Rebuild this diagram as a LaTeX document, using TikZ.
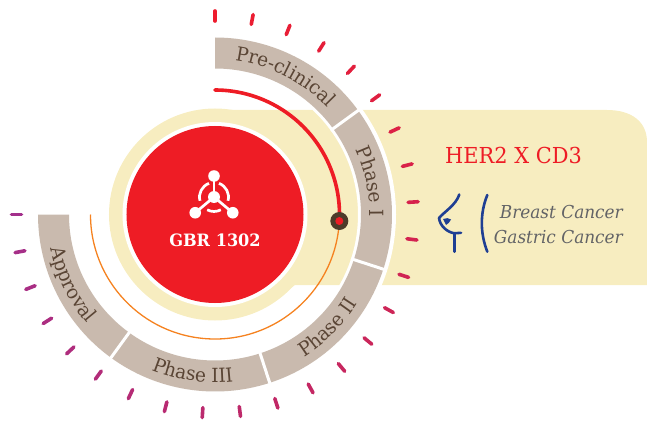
\documentclass[tikz,border=0pt]{standalone}
\usepackage{fontspec}
\usetikzlibrary{decorations.text}
\newfontfamily\slab[FakeStretch=0.95]{DejaVu Serif}
\definecolor{creamc}{HTML}{F7EDC0}
\definecolor{bandc}{HTML}{C9BAAE}
\definecolor{redc}{HTML}{EE1C25}
\definecolor{orangec}{HTML}{F58220}
\definecolor{brownc}{HTML}{5A4535}
\definecolor{dotc}{HTML}{4E3B2A}
\definecolor{bluec}{HTML}{1F3F93}
\definecolor{grayc}{HTML}{626366}
\definecolor{tickA}{HTML}{EE1C2E}
\definecolor{tickB}{HTML}{A3308C}
\tikzset{
  bandseg/.style={fill=bandc,draw=none},
  sepline/.style={draw=white,line width=3pt},
  tickmark/.style={line width=3.6pt,line cap=round},
  bluestroke/.style={draw=bluec,line width=2.6pt,line cap=round,line join=round},
  icoline/.style={draw=white,line width=2.7pt},
}
\newcommand{\bandfont}{\slab\fontsize{19.5}{22}\selectfont\color{brownc}}
\begin{document}
\begin{tikzpicture}[x=1pt,y=1pt]
\useasboundingbox (-215,214.5) rectangle (432,-208.5);
% cream panel and ring (pixel coordinates inside scope)
\begin{scope}[shift={(-215,214.5)},y=-1pt]
  \fill[creamc] (230,110) -- (607,110) .. controls (632,110) and (647,122) .. (647,142) -- (647,285) -- (295,285) -- (262,309) -- (215,214.5) -- cycle;
\end{scope}
\fill[creamc] (0,0) circle[radius=106];
% white ground under band
\draw[white,line width=38pt] (90:162) arc[start angle=90,end angle=-180,radius=162];
\fill[white] (0,0) circle[radius=92.5];
\fill[redc] (0,0) circle[radius=88.5];
% band segments
\foreach \a/\b in {90/36,36/-18,-18/-72,-72/-126,-126/-180}{
  \fill[bandseg] (\a:177) arc[start angle=\a,end angle=\b,radius=177] -- (\b:146) arc[start angle=\b,end angle=\a,radius=146] -- cycle;
}
\foreach \a in {36,-18,-72,-126}{
  \draw[sepline] (\a:143) -- (\a:180);
}
% band labels
\path[decorate,decoration={text along path,text align=center,
  text={|\bandfont|Pre-clinical}}]
  (90:155) arc[start angle=90,end angle=36,radius=155];
\path[decorate,decoration={text along path,text align=center,
  text={|\bandfont|Phase I}}]
  (39:155) arc[start angle=39,end angle=-15,radius=155];
\path[decorate,decoration={text along path,text align=center,
  text={|\bandfont|Phase II}}]
  (-72:168) arc[start angle=-72,end angle=-18,radius=168];
\path[decorate,decoration={text along path,text align=center,
  text={|\bandfont|Phase III}}]
  (-125:168) arc[start angle=-125,end angle=-71,radius=168];
\path[decorate,decoration={text along path,text align=center,
  text={|\bandfont|Approval}}]
  (-181:168) arc[start angle=-181,end angle=-127,radius=168];
% progress arcs
\draw[orangec,line width=1.3pt] (-3:124.5) arc[start angle=-3,end angle=-180,radius=124.5];
\draw[redc,line width=3.6pt,line cap=round] (90:124.5) arc[start angle=90,end angle=-3,radius=124.5];
\fill[dotc] (-3:124.5) circle[radius=9];
\fill[redc] (-3:124.5) circle[radius=4];
% ticks
\foreach \k in {0,...,25}{
  \pgfmathsetmacro{\ang}{90-10.8*\k}
  \pgfmathsetmacro{\pct}{\k*4}
  \draw[tickmark,color=tickB!\pct!tickA] (\ang:193.5) -- (\ang:203.5);
}
% molecule icon
\begin{scope}[shift={(-1,17.5)}]
  \coordinate (ic) at (0,0);
  \coordinate (it) at (90:21);
  \coordinate (il) at (-140:24.5);
  \coordinate (ir) at (-40:24.5);
  \draw[icoline] (ic) -- (it);
  \draw[icoline] (ic) -- (il);
  \draw[icoline] (ic) -- (ir);
  \fill[white] (ic) circle[radius=6];
  \fill[white] (it) circle[radius=5.8];
  \fill[white] (il) circle[radius=5.8];
  \fill[white] (ir) circle[radius=5.8];
  \draw[icoline] (110:14.5) arc[start angle=110,end angle=195,radius=14.5];
  \draw[icoline] (70:14.5) arc[start angle=70,end angle=-15,radius=14.5];
  \draw[icoline] (-118:14.5) arc[start angle=-118,end angle=-62,radius=14.5];
\end{scope}
\node[text=white,font={\slab\bfseries\fontsize{17}{20}\selectfont},inner sep=0pt] (gbr) at (0,-25.5) {GBR 1302};
% right panel
\begin{scope}[shift={(-215,214.5)},y=-1pt]
  \node[text=redc,font={\slab\fontsize{22}{24}\selectfont},anchor=west,inner sep=0pt] (her) at (445,155) {HER2 X CD3};
  \node[text=grayc,font={\slab\itshape\fontsize{17.8}{20}\selectfont},anchor=east,inner sep=0pt] (bc) at (623,212) {Breast Cancer};
  \node[text=grayc,font={\slab\itshape\fontsize{17.8}{20}\selectfont},anchor=east,inner sep=0pt] (gc) at (623,237) {Gastric Cancer};
  \draw[bluestroke] (459.3,194.5) .. controls (456,205) and (444,212) .. (439,218) .. controls (440,226) and (447,232) .. (454.3,233.3) -- (461,232.8);
  \draw[bluestroke] (454.3,233.3) -- (454.3,251.7);
  \fill[bluec] (443,219) .. controls (446,217.5) and (449,218) .. (451,219.5) .. controls (450,222) and (448,224) .. (446,225) .. controls (445,223) and (444,221) .. (443,219) -- cycle;
  \draw[bluestroke] (487.3,195) .. controls (480,213) and (480,233) .. (487.3,251.7);
\end{scope}
\end{tikzpicture}
\end{document}
